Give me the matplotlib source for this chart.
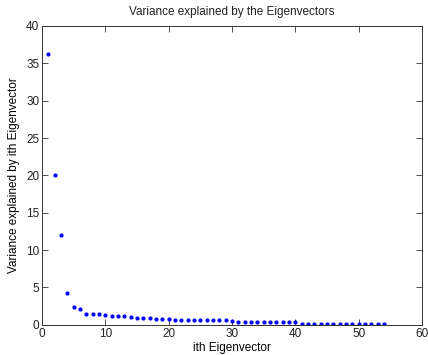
import numpy as np
import matplotlib
matplotlib.use('Agg')
import matplotlib.pyplot as plt

# Variance explained by each eigenvector
eig_index = np.arange(1, 55)
variance = [36.2, 20.1, 12.0, 4.3, 2.4, 2.1, 1.5, 1.4, 1.4, 1.3,
            1.15, 1.15, 1.15, 1.05, 0.95, 0.95, 0.95, 0.8, 0.8, 0.8,
            0.68, 0.68, 0.68, 0.68, 0.68, 0.58, 0.58, 0.58, 0.58, 0.5,
            0.42, 0.42, 0.42, 0.42, 0.33, 0.33, 0.33, 0.33, 0.33, 0.33,
            0.15, 0.15, 0.15, 0.15, 0.15, 0.15, 0.15, 0.15, 0.15, 0.15,
            0.15, 0.15, 0.15, 0.05]

plt.rcParams['font.family'] = ['Liberation Sans', 'DejaVu Sans']
plt.rcParams['font.size'] = 8.5
plt.rcParams['text.color'] = '#222222'

fig = plt.figure(figsize=(4.28, 3.55), dpi=100)
ax = fig.add_axes([0.098, 0.085, 0.888, 0.842])

ax.plot(eig_index, variance, '.', color='blue', markersize=4)

ax.set_xlim(0, 60)
ax.set_ylim(0, 40)
ax.set_xticks(range(0, 61, 10))
ax.set_yticks(range(0, 41, 5))
ax.tick_params(direction='in', top=True, right=True, length=4, width=0.6, pad=2,
               colors='#333333', labelcolor='#222222')
for s in ax.spines.values():
    s.set_linewidth(0.7)
    s.set_color('#333333')

ax.set_title('Variance explained by the Eigenvectors', fontsize=8.5, pad=8)
ax.set_xlabel('ith Eigenvector', labelpad=2)
ax.set_ylabel('Variance explained by ith Eigenvector', labelpad=4)

fig.savefig('out.png', dpi=100)
